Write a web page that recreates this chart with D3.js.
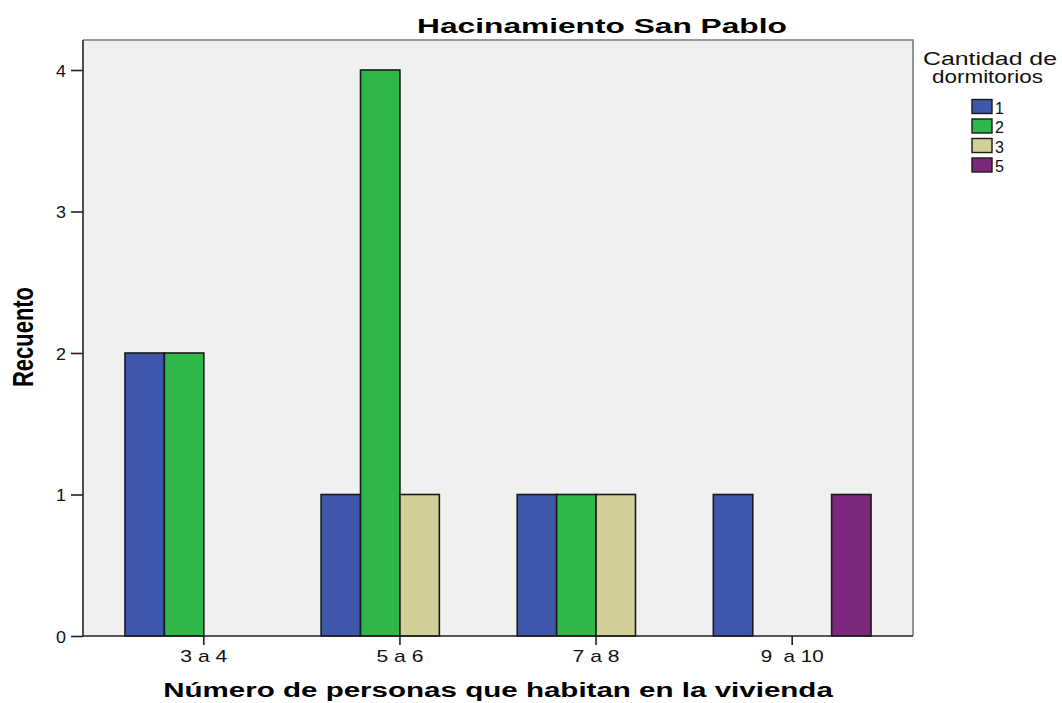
<!DOCTYPE html>
<html>
<head>
<meta charset="utf-8">
<script src="https://cdn.jsdelivr.net/npm/d3@7"></script>
<style>
html,body{margin:0;padding:0;background:#fff;}
svg{display:block;}
</style>
</head>
<body>
<svg id="chart" width="1062" height="703"></svg>
<script>
const categories = ["3 a 4", "5 a 6", "7 a 8", "9  a 10"];
const seriesNames = ["1", "2", "3", "5"];
const seriesColors = ["#3e57ab", "#2fb84a", "#d4cf98", "#7b287c"];
// values per series, one per category (0 = no bar)
const values1 = [2, 1, 1, 1];
const values2 = [2, 4, 1, 0];
const values3 = [0, 1, 1, 0];
const values5 = [0, 0, 0, 1];
const yTicks = [0, 1, 2, 3, 4];
const seriesValues = [values1, values2, values3, values5];

const FONT = "Liberation Sans, Arial, sans-serif";
const svg = d3.select("#chart");
const pL = 83, pR = 913, pT = 40, pB = 636;

// place a text horizontally stretched to a target width, anchored at (cx, by)
function fitText(sel, cx, by, targetW, extra) {
  const node = sel.node();
  sel.attr("x", 0).attr("y", 0).attr("text-anchor", "middle");
  const w = node.getComputedTextLength();
  const sx = targetW / w;
  sel.attr("transform", `translate(${cx},${by}) scale(${sx},1)` + (extra || ""));
  return sx;
}

const x0 = d3.scaleBand().domain(categories).range([pL, pR])
  .paddingInner(0.196).paddingOuter(0.214);
const x1 = d3.scaleBand().domain(seriesNames).range([0, x0.bandwidth()]);
const y = d3.scaleLinear().domain([0, 4]).range([pB, 70]);

// background
svg.append("rect").attr("x", pL).attr("y", pT)
  .attr("width", pR - pL).attr("height", pB - pT)
  .attr("fill", "#f0f0f0");

// bars
const data = [];
seriesNames.forEach((s, i) => {
  categories.forEach((c, j) => {
    const v = seriesValues[i][j];
    if (v > 0) data.push({s, c, v, color: seriesColors[i]});
  });
});
svg.append("g").selectAll("rect").data(data).join("rect")
  .attr("x", d => x0(d.c) + x1(d.s))
  .attr("y", d => y(d.v))
  .attr("width", x1.bandwidth())
  .attr("height", d => pB - y(d.v))
  .attr("fill", d => d.color)
  .attr("stroke", "#1a1a1a")
  .attr("stroke-width", 1.6);

// frame top/right
svg.append("path")
  .attr("d", `M${pL},${pT}H${pR}V${pB}`)
  .attr("fill", "none").attr("stroke", "#7a7a7a").attr("stroke-width", 1.6);

// y axis
const yAxis = svg.append("g").attr("transform", `translate(${pL},0)`)
  .call(d3.axisLeft(y).tickValues(yTicks).tickFormat(d3.format("d")).tickSize(12).tickPadding(4));
yAxis.select(".domain").attr("d", `M0,${pT}V${pB}`).attr("stroke", "#222").attr("stroke-width", 1.6);
yAxis.selectAll(".tick line").attr("stroke", "#222").attr("stroke-width", 1.6);
yAxis.selectAll(".tick text").attr("font-family", FONT)
  .attr("font-size", 16).attr("fill", "#111").attr("dy", null)
  .attr("x", 0).attr("y", 0).attr("text-anchor", "end")
  .attr("transform", "translate(-17,6) scale(1.12,1)");

// x axis
const xAxis = svg.append("g").attr("transform", `translate(0,${pB})`)
  .call(d3.axisBottom(x0).tickSize(9).tickPadding(5));
xAxis.select(".domain").attr("d", `M${pL},0H${pR}`).attr("stroke", "#222").attr("stroke-width", 1.6);
xAxis.selectAll(".tick line").attr("stroke", "#222").attr("stroke-width", 1.6);
xAxis.selectAll(".tick text").attr("font-family", FONT)
  .attr("font-size", 16).attr("fill", "#111").attr("dy", null)
  .style("white-space", "pre")
  .each(function(d) {
    const t = d3.select(this);
    const w = this.getComputedTextLength();
    const target = d.length > 6 ? 63 : 47;
    t.attr("x", 0).attr("y", 0).attr("transform", `translate(0,26) scale(${target / w},1)`);
  });

// title
const title = svg.append("text").attr("font-family", FONT).attr("font-weight", "bold")
  .attr("font-size", 21).attr("fill", "#000").text("Hacinamiento San Pablo");
fitText(title, 602, 33, 370);

// x label
const xl = svg.append("text").attr("font-family", FONT).attr("font-weight", "bold")
  .attr("font-size", 20).attr("fill", "#000")
  .text("Número de personas que habitan en la vivienda");
fitText(xl, 498, 697, 670);

// y label
svg.append("text").attr("transform", "translate(33,337) scale(1.34,1) rotate(-90)")
  .attr("text-anchor", "middle")
  .attr("font-family", FONT).attr("font-weight", "bold")
  .attr("font-size", 22).attr("fill", "#000")
  .attr("textLength", 100).attr("lengthAdjust", "spacingAndGlyphs").text("Recuento");

// legend
const lg = svg.append("g");
const lt1 = lg.append("text").attr("font-family", FONT).attr("font-size", 18)
  .attr("fill", "#111").text("Cantidad de");
fitText(lt1, 990, 65, 134);
const lt2 = lg.append("text").attr("font-family", FONT).attr("font-size", 18)
  .attr("fill", "#111").text("dormitorios");
fitText(lt2, 987.5, 83, 111);
const ly = d3.scaleBand().domain(seriesNames).range([99, 177]);
const items = lg.selectAll("g.item").data(seriesNames).join("g").attr("class", "item")
  .attr("transform", d => `translate(0,${ly(d)})`);
items.append("rect").attr("x", 972).attr("y", 0.5).attr("width", 20).attr("height", 14)
  .attr("fill", (d, i) => seriesColors[i]).attr("stroke", "#1a1a1a").attr("stroke-width", 1.4);
items.append("text").attr("x", 995).attr("y", 14.5).attr("font-family", FONT)
  .attr("font-size", 16).attr("fill", "#111").text(d => d);
</script>
</body>
</html>
